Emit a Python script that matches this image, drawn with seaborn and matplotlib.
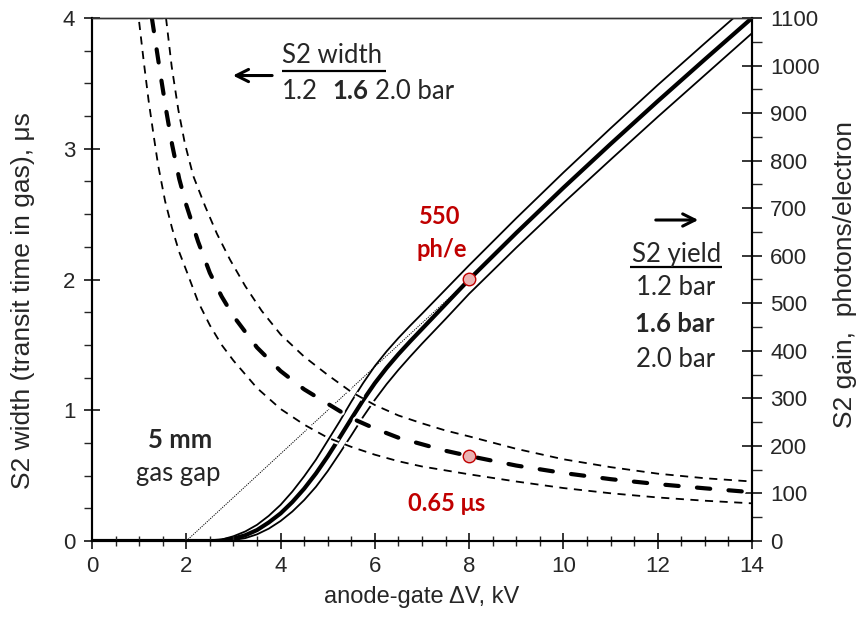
import matplotlib
matplotlib.use("Agg")
import matplotlib.pyplot as plt
import matplotlib.patheffects as pe
from matplotlib.ticker import MultipleLocator
import seaborn as sns

# ---------------- data ----------------
# S2 width (transit time in gas), us  -- left axis
w12_x = [1.0, 1.1, 1.2, 1.3, 1.4, 1.55, 1.7, 1.85, 2.0, 2.25, 2.5, 2.75, 3.0, 3.5, 4.0, 4.5,
         5.0, 5.5, 6.0, 6.5, 7.0, 8.0, 9.0, 10.0, 11.0, 12.0, 13.0, 14.0]
w12_y = [3.97, 3.66, 3.37, 3.12, 2.88, 2.60, 2.39, 2.21, 2.07, 1.83, 1.65, 1.50, 1.38, 1.17, 1.01, 0.89,
         0.79, 0.72, 0.66, 0.61, 0.57, 0.51, 0.455, 0.405, 0.365, 0.333, 0.308, 0.288]

w16_x = [1.27, 1.35, 1.46, 1.58, 1.70, 1.85, 2.0, 2.25, 2.5, 2.75, 3.0, 3.5, 4.0, 4.5, 5.0, 5.5,
         6.0, 6.5, 7.0, 7.5, 8.0, 9.0, 10.0, 11.0, 12.0, 13.0, 14.0]
w16_y = [4.0, 3.81, 3.55, 3.28, 3.03, 2.77, 2.57, 2.29, 2.05, 1.87, 1.72, 1.48, 1.30, 1.16, 1.05, 0.94,
         0.86, 0.79, 0.74, 0.69, 0.65, 0.577, 0.52, 0.473, 0.435, 0.403, 0.373]

w20_x = [1.57, 1.69, 1.83, 1.97, 2.15, 2.40, 2.65, 2.93, 3.25, 3.6, 4.0, 4.5, 5.0, 5.5, 6.0, 6.5,
         7.0, 7.5, 8.0, 9.0, 10.0, 11.0, 12.0, 13.0, 14.0]
w20_y = [4.0, 3.63, 3.30, 3.04, 2.79, 2.56, 2.35, 2.15, 1.95, 1.76, 1.58, 1.41, 1.27, 1.14, 1.04, 0.96,
         0.90, 0.845, 0.80, 0.705, 0.625, 0.565, 0.515, 0.48, 0.455]

# S2 gain, photons/electron -- right axis
y12_x = [0, 2.5, 2.75, 3.0, 3.25, 3.5, 3.75, 4.0, 4.25, 4.5, 4.75, 5.0, 5.25, 5.5, 5.75, 6.0,
         6.25, 6.5, 6.75, 7.0, 7.5, 8.0, 9.0, 10.0, 11.0, 12.0, 13.0, 14.0]
y12_y = [0, 0, 3, 10, 20, 34, 53, 76, 104, 136, 171, 211, 251, 293, 332, 368,
         399, 427, 453, 478, 529, 580, 679, 775, 868, 959, 1047, 1134]

y16_x = [0, 2.6, 2.75, 3.0, 3.25, 3.5, 3.75, 4.0, 4.25, 4.5, 4.75, 5.0, 5.25, 5.5, 5.75, 6.0,
         6.25, 6.5, 6.75, 7.0, 7.5, 8.0, 9.0, 10.0, 11.0, 12.0, 13.0, 14.0]
y16_y = [0, 0, 1, 5, 12, 23, 39, 58, 82, 110, 142, 178, 217, 257, 296, 332,
         364, 393, 420, 446, 498, 550, 648, 743, 835, 925, 1013, 1100]

y20_x = [0, 2.75, 3.0, 3.25, 3.5, 3.75, 4.0, 4.25, 4.5, 4.75, 5.0, 5.25, 5.5, 5.75, 6.0,
         6.25, 6.5, 6.75, 7.0, 7.5, 8.0, 9.0, 10.0, 11.0, 12.0, 13.0, 14.0]
y20_y = [0, 0, 2, 6, 14, 26, 42, 62, 86, 114, 147, 184, 222, 261, 297,
         330, 360, 388, 415, 467, 520, 617, 711, 802, 892, 980, 1068]

tangent_x = [2.0, 8.0]
tangent_y = [0, 550]

pt_yield = (8.0, 550)
pt_width = (8.0, 0.65)

x_ticks = [0, 2, 4, 6, 8, 10, 12, 14]
left_ticks = [0, 1, 2, 3, 4]
right_ticks = list(range(0, 1101, 100))

# ---------------- style ----------------
sns.set_style("ticks")
plt.rcParams['font.family'] = ['Liberation Sans', 'DejaVu Sans']
ANN = ['Lato', 'DejaVu Sans']
RED = '#c00000'

fig = plt.figure(figsize=(8.66, 6.28), dpi=100)
ax = fig.add_axes([92/866, 1-541/628, (752-92)/866, (541-18)/628])
ax2 = ax.twinx()
ax.set_zorder(3)
ax.patch.set_visible(False)

# yield curves (right axis)
sns.lineplot(x=y12_x, y=y12_y, ax=ax2, color='k', lw=1.3, sort=False, errorbar=None)
sns.lineplot(x=y20_x, y=y20_y, ax=ax2, color='k', lw=1.3, sort=False, errorbar=None)
sns.lineplot(x=y16_x, y=y16_y, ax=ax2, color='k', lw=3.0, sort=False, errorbar=None)
sns.lineplot(x=tangent_x, y=tangent_y, ax=ax2, color='k', lw=0.7, linestyle=(0, (1.2, 1.2)),
             sort=False, errorbar=None)
ax2.plot([pt_yield[0]], [pt_yield[1]], 'o', ms=9, mfc='#eab3b3', mec=RED, mew=1.0, zorder=5)

# width curves (left axis)
white = lambda lw: [pe.Stroke(linewidth=lw + 3, foreground='white'), pe.Normal()]
sns.lineplot(x=w12_x, y=w12_y, ax=ax, color='k', lw=1.3, linestyle=(0, (4.5, 3.6)),
             sort=False, errorbar=None, path_effects=white(1.3))
sns.lineplot(x=w20_x, y=w20_y, ax=ax, color='k', lw=1.3, linestyle=(0, (4.5, 3.6)),
             sort=False, errorbar=None, path_effects=white(1.3))
sns.lineplot(x=w16_x, y=w16_y, ax=ax, color='k', lw=3.0, linestyle=(0, (3.2, 4.4)),
             dash_capstyle='round', sort=False, errorbar=None, path_effects=white(3.0))
ax.plot([pt_width[0]], [pt_width[1]], 'o', ms=9, mfc='#eab3b3', mec=RED, mew=1.0, zorder=5)

# axes limits & ticks
ax.set_xlim(0, 14)
ax.set_ylim(0, 4)
ax2.set_ylim(0, 1100)
ax.set_xticks(x_ticks)
ax.set_yticks(left_ticks)
ax2.set_yticks(right_ticks)
ax.xaxis.set_minor_locator(MultipleLocator(0.5))
ax.yaxis.set_minor_locator(MultipleLocator(0.25))
ax2.yaxis.set_minor_locator(MultipleLocator(50))

ax.tick_params(axis='x', which='major', direction='inout', length=12, width=1.3, labelsize=16, pad=5)
ax.tick_params(axis='x', which='minor', direction='inout', length=7, width=1.0)
ax.tick_params(axis='y', which='major', direction='inout', length=12, width=1.3, labelsize=16, pad=6)
ax.tick_params(axis='y', which='minor', direction='out', length=6, width=1.0)
ax2.tick_params(axis='y', which='major', direction='inout', length=14, width=1.3, labelsize=16, pad=6)
ax2.tick_params(axis='y', which='minor', direction='out', length=7, width=1.0)

for a in (ax, ax2):
    for s in ['left', 'right', 'bottom']:
        a.spines[s].set_linewidth(1.5)
        a.spines[s].set_color('k')
    a.spines['top'].set_linewidth(1.0)
    a.spines['top'].set_color('#333333')

ax.set_xlabel('anode-gate \u0394V, kV', fontsize=17, labelpad=6)
ax.set_ylabel('S2 width (transit time in gas), \u03bcs', fontsize=19)
ax2.set_ylabel('S2 gain,  photons/electron', fontsize=19)
ax.yaxis.set_label_coords(-0.087, 0.46)
ax2.yaxis.set_label_coords(1.122, 0.51)

# ---------------- annotations ----------------
fs = 18.5
ax.text(4.03, 3.71, 'S2 width', fontsize=fs, family=ANN, ha='left', va='center')
ax.plot([4.03, 6.24], [3.595, 3.595], color='k', lw=1.6, solid_capstyle='butt')
ax.text(4.03, 3.44, '1.2', fontsize=fs, family=ANN, ha='left', va='center')
ax.text(5.09, 3.44, '1.6', fontsize=fs, family=ANN, ha='left', va='center', weight='bold')
ax.text(6.0, 3.44, '2.0 bar', fontsize=fs, family=ANN, ha='left', va='center')
ax.annotate('', xy=(2.93, 3.56), xytext=(3.88, 3.56),
            arrowprops=dict(arrowstyle='->', lw=2.2, color='k', mutation_scale=22))

ax.text(12.4, 2.19, 'S2 yield', fontsize=fs, family=ANN, ha='center', va='center')
ax.plot([11.41, 13.36], [2.095, 2.095], color='k', lw=1.6, solid_capstyle='butt')
ax.annotate('', xy=(12.92, 2.455), xytext=(11.9, 2.455),
            arrowprops=dict(arrowstyle='->', lw=2.2, color='k', mutation_scale=22))
ax.text(12.37, 1.935, '1.2 bar', fontsize=fs, family=ANN, ha='center', va='center')
ax.text(12.37, 1.66, '1.6 bar', fontsize=fs, family=ANN, ha='center', va='center', weight='bold')
ax.text(12.37, 1.39, '2.0 bar', fontsize=fs, family=ANN, ha='center', va='center')

ax.text(7.38, 2.48, '550', fontsize=17, family=ANN, ha='center', va='center', weight='bold', color=RED)
ax.text(7.42, 2.23, 'ph/e', fontsize=17, family=ANN, ha='center', va='center', weight='bold', color=RED)
ax.text(7.53, 0.285, '0.65 \u03bcs', fontsize=17, family=ANN, ha='center', va='center', weight='bold', color=RED)

ax.text(1.87, 0.77, '5 mm', fontsize=fs, family=ANN, ha='center', va='center', weight='bold')
ax.text(1.82, 0.52, 'gas gap', fontsize=fs, family=ANN, ha='center', va='center')

fig.savefig('out.png', dpi=100)
